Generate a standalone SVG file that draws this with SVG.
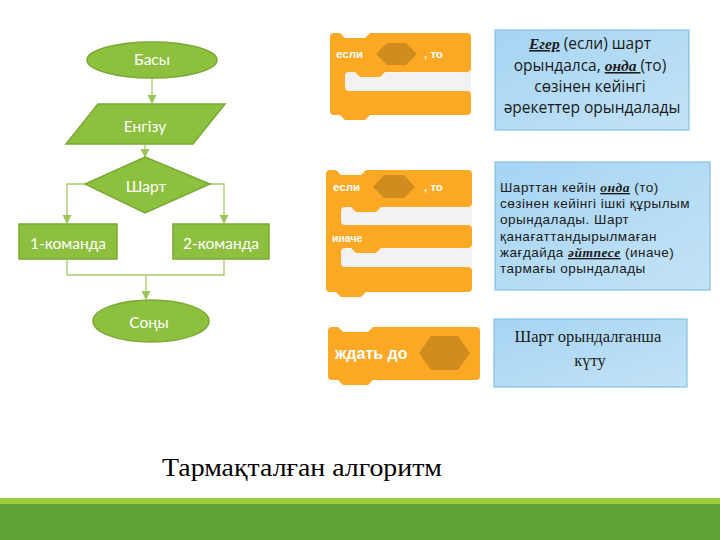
<svg xmlns="http://www.w3.org/2000/svg" width="720" height="540" viewBox="0 0 720 540">
<defs>
<style>
.fc{fill:#8DC03F;stroke:#7AAA31;stroke-width:1.5}
.ft{font-family:Lato,"Open Sans",sans-serif;font-size:15.5px;fill:#fff;text-anchor:middle}
.con{fill:none;stroke:#A5CC6B;stroke-width:1.3}
.blk{fill:#FBA925}
.hex{fill:#D08C1C}
.bt{font-family:"Liberation Sans",Arial,sans-serif;font-weight:bold;fill:#fff}
.box{fill:url(#bg);stroke:#86C0E3;stroke-width:1.2}
.bx{font-family:"Open Sans",Lato,sans-serif;fill:#1a1a1a}
.bx2{font-family:"Liberation Sans",Arial,sans-serif;fill:#1a1a1a}
.em{font-family:"Liberation Serif","Times New Roman",serif;font-weight:bold;font-style:italic;text-decoration:underline}
</style>
<linearGradient id="bg" x1="0" y1="0" x2="1" y2="1">
<stop offset="0" stop-color="#A6D4F3"/>
<stop offset="1" stop-color="#C3E3F6"/>
</linearGradient>
<marker id="ar" viewBox="0 0 10 10" refX="9" refY="5" markerWidth="7" markerHeight="7" orient="auto">
<path d="M0,0 L10,5 L0,10 Z" fill="#9BC45A"/>
</marker>
</defs>
<rect width="720" height="540" fill="#fff"/>

<g id="connectors">
<line class="con" x1="152" y1="78" x2="152" y2="103" marker-end="url(#ar)"/>
<line class="con" x1="145" y1="145" x2="145" y2="157" marker-end="url(#ar)"/>
<polyline class="con" points="85,184 67,184 67,223" marker-end="url(#ar)"/>
<polyline class="con" points="210,184 224,184 224,223" marker-end="url(#ar)"/>
<polyline class="con" points="67,259 67,275 224,275 224,259"/>
<line class="con" x1="146" y1="275" x2="146" y2="299" marker-end="url(#ar)"/>
</g>

<g id="start">
<ellipse class="fc" cx="152" cy="60" rx="65" ry="18"/>
<text class="ft" x="152" y="65">Басы</text>
</g>
<g id="input">
<polygon class="fc" points="98,104 225,104 193,144 66,144"/>
<text class="ft" x="145" y="132">Енгізу</text>
</g>
<g id="cond">
<polygon class="fc" points="145,157 210,184 145,213 85,184"/>
<text class="ft" x="146" y="192">Шарт</text>
</g>
<g id="cmd1">
<rect class="fc" x="19" y="224" width="98" height="35"/>
<text class="ft" x="68" y="249">1-команда</text>
</g>
<g id="cmd2">
<rect class="fc" x="173" y="224" width="96" height="35"/>
<text class="ft" x="221" y="249">2-команда</text>
</g>
<g id="end">
<ellipse class="fc" cx="151" cy="321" rx="58" ry="21"/>
<text class="ft" x="149" y="328">Соңы</text>
</g>

<g id="block-if">
<rect x="345" y="72" width="126" height="19" fill="#F2F2F2"/>
<path class="blk" d="M330,37 Q330,33 334,33 L340,33 L345,38 L365,38 L370,33 L467,33 Q471,33 471,37 L471,68 Q471,72 467,72 L385,72 L380,77 L360,77 L355,72 L349,72 Q345,72 345,76 L345,87 Q345,91 349,91 L467,91 Q471,91 471,95 L471,111 Q471,115 467,115 L370,115 L365,120 L345,120 L340,115 L334,115 Q330,115 330,111 Z"/>
<polygon class="hex" points="376,54 387,43 406,43 417,54 406,65 387,65"/>
<text class="bt" x="336" y="58" font-size="11.5">если</text>
<text class="bt" x="424" y="58" font-size="11.5">, то</text>
</g>

<g id="block-ifelse">
<rect x="341" y="207" width="131" height="18" fill="#F2F2F2"/>
<rect x="341" y="248" width="131" height="19" fill="#F2F2F2"/>
<path class="blk" d="M326,174 Q326,170 330,170 L336,170 L341,175 L361,175 L366,170 L468,170 Q472,170 472,174 L472,203 Q472,207 468,207 L381,207 L376,212 L356,212 L351,207 L345,207 Q341,207 341,211 L341,221 Q341,225 345,225 L468,225 Q472,225 472,229 L472,244 Q472,248 468,248 L381,248 L376,253 L356,253 L351,248 L345,248 Q341,248 341,252 L341,263 Q341,267 345,267 L468,267 Q472,267 472,271 L472,288 Q472,292 468,292 L366,292 L361,297 L341,297 L336,292 L330,292 Q326,292 326,288 Z"/>
<polygon class="hex" points="373,187 384,175 404,175 415,187 404,198 384,198"/>
<text class="bt" x="333" y="191" font-size="11.5">если</text>
<text class="bt" x="424" y="191" font-size="11.5">, то</text>
<text class="bt" x="332" y="242" font-size="10.5">иначе</text>
</g>

<g id="block-wait">
<path class="blk" d="M328,331 Q328,327 332,327 L338,327 L343,332 L368,332 L373,327 L476,327 Q480,327 480,331 L480,376 Q480,380 476,380 L373,380 L368,385 L343,385 L338,380 L332,380 Q328,380 328,376 Z"/>
<polygon class="hex" points="419,353 431,336 458,336 470,353 458,370 431,370"/>
<text class="bt" x="335" y="359" font-size="16">ждать до</text>
</g>

<g id="note1">
<rect class="box" x="495" y="30" width="194" height="100"/>
<text class="bx" font-size="15.5" text-anchor="middle">
<tspan x="592" y="49"><tspan class="em">Егер</tspan> (если) шарт</tspan>
<tspan x="592" y="71">орындалса, <tspan class="em">онда </tspan>(то)</tspan>
<tspan x="592" y="92">сөзінен кейінгі</tspan>
<tspan x="592" y="113">әрекеттер орындалады</tspan>
</text>
</g>

<g id="note2">
<rect class="box" x="495" y="162" width="215" height="128"/>
<text class="bx2" font-size="13.5" letter-spacing="0.5">
<tspan x="500" y="192">Шарттан кейін <tspan class="em">онда</tspan> (то)</tspan>
<tspan x="500" y="208">сөзінен кейінгі ішкі құрылым</tspan>
<tspan x="500" y="224">орындалады. Шарт</tspan>
<tspan x="500" y="241">қанағаттандырылмаған</tspan>
<tspan x="500" y="257">жағдайда <tspan class="em">әйтпесе</tspan> (иначе)</tspan>
<tspan x="500" y="273">тармағы орындалады</tspan>
</text>
</g>

<g id="note3">
<rect class="box" x="494" y="319" width="193" height="68"/>
<text font-family="'Liberation Serif','Times New Roman',serif" font-size="16.5" fill="#1a1a1a" text-anchor="middle">
<tspan x="590" y="342">Шарт орындалғанша</tspan>
<tspan x="590" y="366">күту</tspan>
</text>
</g>

<text x="162" y="476" font-family="'Liberation Serif','Times New Roman',serif" font-size="25" fill="#000" textLength="280" lengthAdjust="spacingAndGlyphs">Тармақталған алгоритм</text>

<rect x="0" y="498" width="720" height="6" fill="#9DCB3B"/>
<rect x="0" y="504" width="720" height="36" fill="#62A338"/>
</svg>
